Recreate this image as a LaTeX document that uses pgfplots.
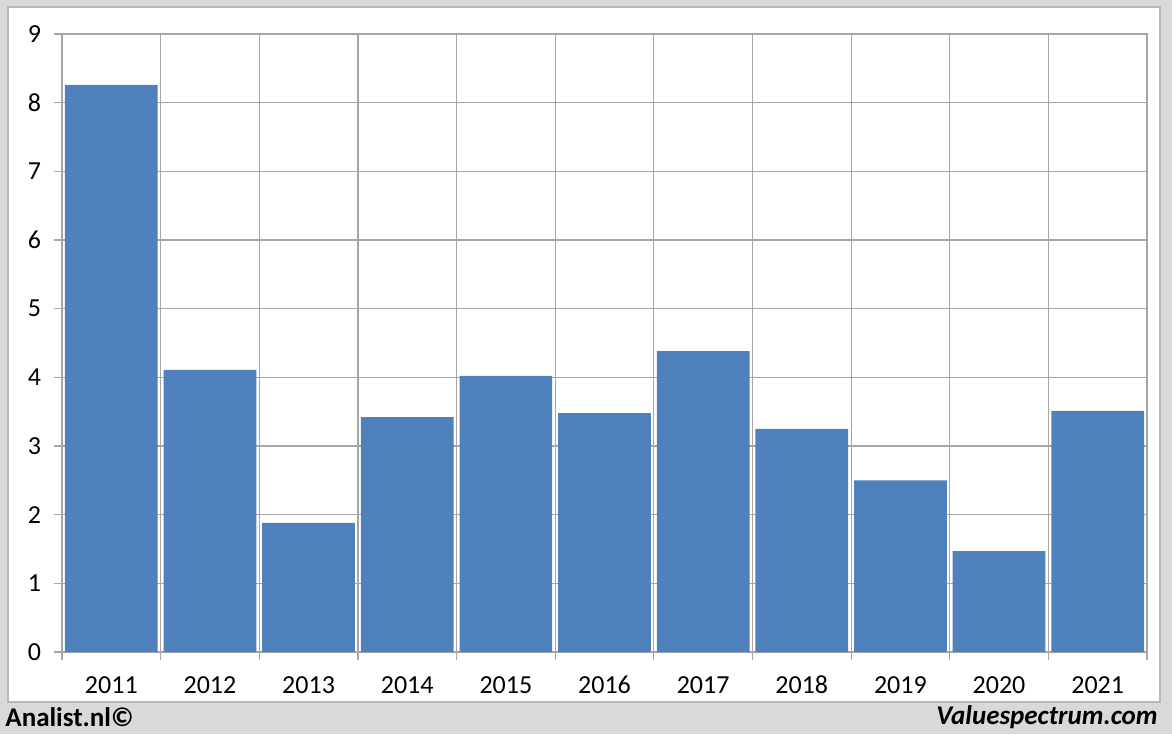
\documentclass[border=0pt]{standalone}
\usepackage{pgfplots}
\pgfplotsset{compat=1.18}
\usepackage{fontspec}
\setmainfont{Carlito}
\definecolor{barblue}{HTML}{4F81BD}
\definecolor{gridgray}{HTML}{A6A6A6}
\definecolor{bggray}{HTML}{D9D9D9}
\begin{document}
\begin{tikzpicture}
\fill[bggray] (0,0) rectangle (586pt,367pt);
\filldraw[fill=white, draw=gridgray!80, line width=0.6pt] (4pt,16pt) rectangle (580pt,363.5pt);
\node[anchor=west, inner sep=0pt, font=\fontsize{13.5}{15}\selectfont\bfseries] at (2.5pt,8.5pt) {Analist.nl©};
\node[anchor=east, inner sep=0pt, font=\fontsize{13.5}{15}\selectfont\bfseries\itshape] at (579pt,8.5pt) {Valuespectrum.com};
\begin{axis}[
    at={(31pt,41pt)}, anchor=south west,
    scale only axis,
    width=542.5pt, height=309pt,
    xmin=0.5, xmax=11.5,
    ymin=0, ymax=9,
    ytick={0,1,...,9},
    xtick={1,...,11},
    xticklabels={2011,2012,2013,2014,2015,2016,2017,2018,2019,2020,2021},
    minor xtick={0.5,1.5,...,11.5},
    major x tick style={draw=none},
    minor x tick style={gridgray, line width=0.6pt},
    y tick style={gridgray, line width=0.6pt},
    minor tick length=4pt,
    major tick length=4pt,
    tick align=outside,
    xtick pos=bottom, ytick pos=left,
    ymajorgrids=true, xminorgrids=true,
    grid style={gridgray, line width=0.6pt},
    axis line style={gridgray, line width=0.6pt},
    ticklabel style={font=\fontsize{13}{15}\selectfont, text=black},
    /pgf/number format/assume math mode=true,
    xticklabel style={yshift=-4pt, text height=9pt, text depth=0pt},
    yticklabel style={xshift=-3pt},
]
\addplot[ybar, bar width=0.94, fill=barblue, draw=none] coordinates {
    (1,8.26)(2,4.11)(3,1.88)(4,3.42)(5,4.02)(6,3.48)(7,4.38)(8,3.25)(9,2.50)(10,1.47)(11,3.51)
};
\end{axis}
\end{tikzpicture}
\end{document}
